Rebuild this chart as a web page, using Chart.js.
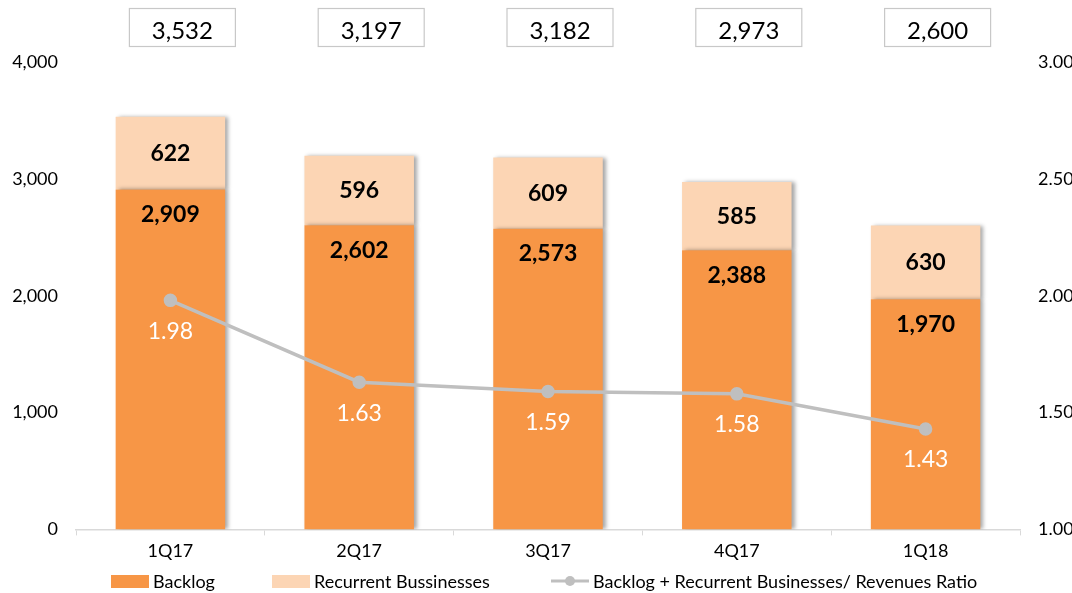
<!DOCTYPE html>
<html>
<head>
<meta charset="utf-8">
<script src="https://cdn.jsdelivr.net/npm/chart.js@4/dist/chart.umd.min.js"></script>
<style>
  html, body { margin: 0; padding: 0; background: #fff; }
  #wrap { position: relative; width: 1072px; height: 593px; overflow: hidden; }
  #legend { position: absolute; top: 570px; left: 0; width: 1072px; height: 22px;
            font-family: Lato, sans-serif; font-size: 18px; color: #000; }
  .item { position: absolute; top: 0; display: flex; align-items: center; height: 22px; }
  .box { width: 38px; height: 13px; margin-right: 4px; }
</style>
</head>
<body>
<div id="wrap">
  <canvas id="chart" width="1072" height="593"></canvas>
  <div id="legend">
    <div class="item" style="left:111px"><span class="box" style="background:#F79646"></span>Backlog</div>
    <div class="item" style="left:272px"><span class="box" style="background:#FCD5B4"></span>Recurrent Bussinesses</div>
    <div class="item" style="left:551px">
      <svg width="40" height="14" style="margin-right:2px"><line x1="0" y1="7" x2="38" y2="7" stroke="#BFBFBF" stroke-width="3"/><circle cx="19" cy="7" r="5" fill="#BFBFBF"/></svg>Backlog + Recurrent Businesses/ Revenues Ratio
    </div>
  </div>
</div>
<script>
const quarters = ["1Q17", "2Q17", "3Q17", "4Q17", "1Q18"];
const backlog = [2909, 2602, 2573, 2388, 1970];
const recurrent = [622, 596, 609, 585, 630];
const ratio = [1.98, 1.63, 1.59, 1.58, 1.43];
const totals = [3532, 3197, 3182, 2973, 2600];

const fmt = v => v.toLocaleString("en-US");

// shadow on the right side of the bars
const barShadow = {
  id: "barShadow",
  beforeDatasetDraw(chart, args) {
    if (args.meta.type !== "bar") return;
    const ctx = chart.ctx;
    ctx.save();
    ctx.shadowColor = "rgba(0,0,0,0.35)";
    ctx.shadowBlur = 4;
    ctx.shadowOffsetX = 3;
    ctx.shadowOffsetY = 0;
  },
  afterDatasetDraw(chart, args) {
    if (args.meta.type !== "bar") return;
    chart.ctx.restore();
  }
};

const labels = {
  id: "labels",
  afterDatasetsDraw(chart) {
    const ctx = chart.ctx;
    ctx.save();
    ctx.textAlign = "center";
    ctx.textBaseline = "middle";

    // backlog
    ctx.font = "bold 23px Lato";
    ctx.fillStyle = "#000";
    chart.getDatasetMeta(0).data.forEach((bar, i) => {
      ctx.fillText(fmt(backlog[i]), bar.x, bar.y + 25);
    });
    // recurrent
    chart.getDatasetMeta(1).data.forEach((bar, i) => {
      ctx.fillText(fmt(recurrent[i]), bar.x, (bar.y + bar.base) / 2);
    });
    // ratio
    ctx.font = "23px Lato";
    ctx.fillStyle = "#fff";
    chart.getDatasetMeta(2).data.forEach((pt, i) => {
      ctx.fillText(ratio[i].toFixed(2), pt.x, pt.y + 31);
    });

    // total boxes
    ctx.font = "24px Lato";
    ctx.strokeStyle = "#C8C8C8";
    ctx.lineWidth = 1.2;
    chart.getDatasetMeta(0).data.forEach((bar, i) => {
      const cx = bar.x + 12;
      ctx.fillStyle = "#fff";
      ctx.fillRect(cx - 53, 8.5, 106, 38);
      ctx.strokeRect(cx - 53, 8.5, 106, 38);
      ctx.fillStyle = "#000";
      ctx.fillText(fmt(totals[i]), cx, 31);
    });
    ctx.restore();
  }
};

new Chart(document.getElementById("chart"), {
  type: "bar",
  data: {
    labels: quarters,
    datasets: [
      {
        label: "Backlog",
        data: backlog,
        backgroundColor: "#F79646",
        stack: "s",
        yAxisID: "y",
        order: 2
      },
      {
        label: "Recurrent Bussinesses",
        data: recurrent,
        backgroundColor: "#FCD5B4",
        stack: "s",
        yAxisID: "y",
        order: 2
      },
      {
        type: "line",
        label: "Backlog + Recurrent Businesses/ Revenues Ratio",
        data: ratio,
        borderColor: "#BFBFBF",
        backgroundColor: "#BFBFBF",
        borderWidth: 3.5,
        pointRadius: 5,
        pointHoverRadius: 5,
        tension: 0,
        yAxisID: "y1",
        order: 1
      }
    ]
  },
  options: {
    responsive: false,
    animation: false,
    layout: { padding: { top: 62, bottom: 26, left: 0, right: 0 } },
    datasets: { bar: { barPercentage: 0.58, categoryPercentage: 1 } },
    plugins: {
      legend: { display: false },
      tooltip: { enabled: false }
    },
    scales: {
      x: {
        stacked: true,
        grid: { display: true, drawOnChartArea: false, tickLength: 6, color: "#D9D9D9" },
        border: { display: true, color: "#D9D9D9", width: 1.5 },
        ticks: { color: "#000", font: { family: "Lato", size: 18 }, padding: 5 }
      },
      y: {
        stacked: true,
        position: "left",
        min: 0,
        max: 4000,
        afterFit(s) { s.width = 76; },
        grid: { display: false },
        border: { display: false },
        ticks: {
          stepSize: 1000,
          color: "#000",
          padding: 10,
          font: { family: "Lato", size: 18 },
          callback: v => fmt(v)
        }
      },
      y1: {
        position: "right",
        min: 1,
        max: 3,
        afterFit(s) { s.width = 52; },
        grid: { display: false },
        border: { display: false },
        ticks: {
          stepSize: 0.5,
          color: "#000",
          padding: 10,
          font: { family: "Lato", size: 18 },
          callback: v => v.toFixed(2)
        }
      }
    }
  },
  plugins: [barShadow, labels]
});
</script>
</body>
</html>
